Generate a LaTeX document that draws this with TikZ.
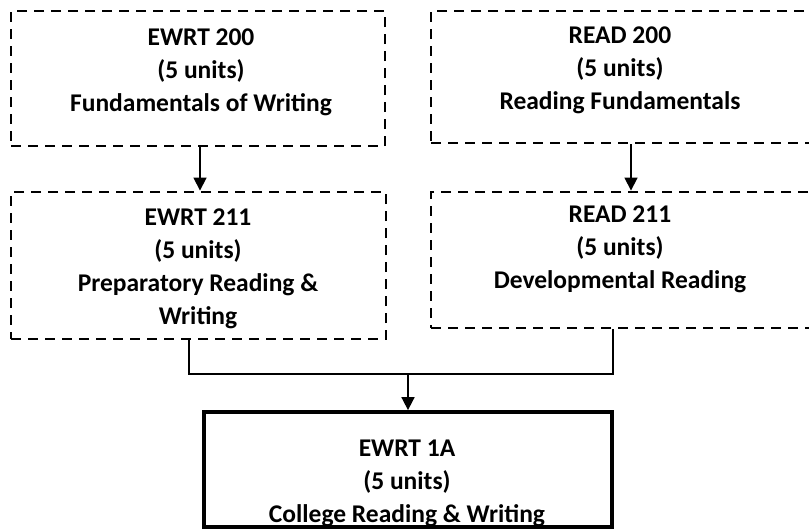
\documentclass[tikz,border=0pt]{standalone}
\usepackage{fontspec}
\setmainfont{Carlito}
\usetikzlibrary{arrows.meta}
\begin{document}
\begin{tikzpicture}[x=1pt,y=-1pt,
  dbox/.style={draw, line width=2.9pt, dash pattern=on 10pt off 7pt, rectangle, inner sep=0pt},
  sbox/.style={draw, line width=3.8pt, rectangle, inner sep=0pt},
  lbl/.style={align=center, inner sep=0pt, font=\bfseries\fontsize{25.5}{33}\selectfont},
  conn/.style={line width=1.7pt},
  arr/.style={line width=1.7pt, -{Triangle[length=13pt,width=13pt]}}]
\clip (0,0) rectangle (809,531);
\useasboundingbox (0,0) rectangle (809,531);
% boxes
\node[dbox, minimum width=374pt, minimum height=135pt] (b1) at (198,78.5) {};
\node[dbox, minimum width=384pt, minimum height=132pt] (b2) at (623,77) {};
\node[dbox, minimum width=375pt, minimum height=147pt] (b3) at (198.5,265.5) {};
\node[dbox, minimum width=384pt, minimum height=136pt] (b4) at (623,260) {};
\node[sbox, minimum width=408pt, minimum height=115pt] (b5) at (408,469.5) {};
% labels
\node[lbl] (t1) at (201,72) {EWRT 200\\(5 units)\\Fundamentals of Writing};
\node[lbl] (t2) at (620,70) {READ 200\\(5 units)\\Reading Fundamentals};
\node[lbl] (t3) at (198,269) {EWRT 211\\(5 units)\\Preparatory Reading \&\\Writing};
\node[lbl] (t4) at (620,249) {READ 211\\(5 units)\\Developmental Reading};
\node[lbl] (t5) at (407,483) {EWRT 1A\\(5 units)\\College Reading \& Writing};
% connector coordinates
\coordinate (a1) at (200,0);
\coordinate (a2) at (631,0);
\coordinate (cl) at (189,374);
\coordinate (cr) at (613,374);
\coordinate (j) at (408,374);
% connectors
\draw[arr] (b1.south -| a1) -- (b3.north -| a1);
\draw[arr] (b2.south -| a2) -- (b4.north -| a2);
\draw[conn] (b3.south -| cl) -- (cl) -- (cr) -- (b4.south -| cr);
\draw[arr] (j) -- (b5.north);
\end{tikzpicture}
\end{document}
